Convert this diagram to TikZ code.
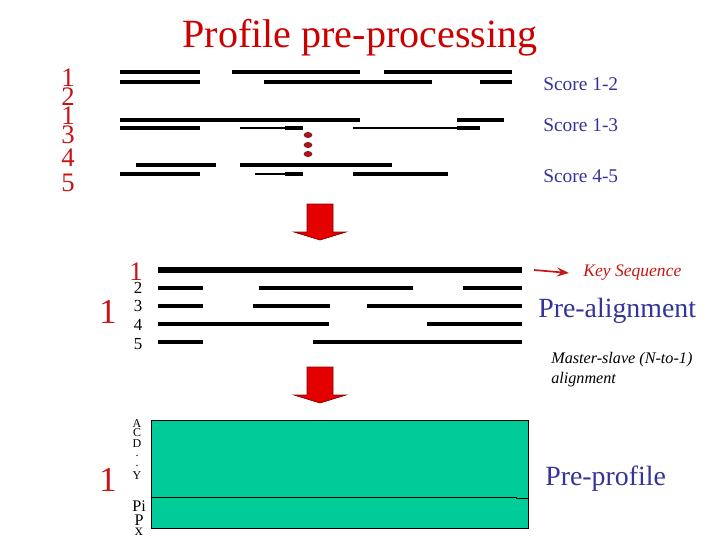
\documentclass[tikz,border=0pt]{standalone}
\usepackage{fontspec}
\setmainfont{Liberation Serif}
\usetikzlibrary{arrows.meta}
\definecolor{ttlred}{RGB}{204,0,0}
\definecolor{numred}{RGB}{200,20,20}
\definecolor{txtblue}{RGB}{51,51,153}
\definecolor{boxgreen}{RGB}{0,204,153}
\definecolor{dotred}{RGB}{175,20,30}

\begin{document}
\begin{tikzpicture}[
  x=0.025cm, y=-0.025cm,
  every node/.style={inner sep=0pt},
  >={Stealth},
  seg/.style={line width=2.8pt},
  thinseg/.style={line width=1.8pt},
  keyseg/.style={line width=4.6pt},
  bignum/.style={text=numred, font=\fontsize{19}{19}\selectfont},
  hugenum/.style={text=numred, font=\fontsize{25}{25}\selectfont},
  smallnum/.style={font=\fontsize{12}{12}\selectfont},
  score/.style={text=txtblue, font=\fontsize{13.8}{13.8}\selectfont, anchor=west},
  stage/.style={text=txtblue, font=\fontsize{19.8}{19.8}\selectfont, anchor=west},
  barrow/.style={fill=red!90!black, draw=red!55!black, line width=0.5pt}
]
\useasboundingbox (0,0) rectangle (720,540);
% title
\node[text=ttlred, font=\fontsize{28.5}{28.5}\selectfont] (title) at (360,38) {Profile pre-processing};
% raw sequences and their pair scores
\foreach \n/\y in {1/78, 2/97, 1/116, 3/135, 4/158, 5/183}
  \node[bignum] (raw\y) at (68,\y) {\n};
\foreach \y/\a/\b in {72/120/200, 72/232/360, 72/384/512,
                      82/120/200, 82/264/432, 82/480/512,
                      120/120/360, 120/457/504,
                      128/120/200, 128/285/303, 128/457/480,
                      165/136/216, 165/240/392,
                      174/120/200, 174/285/303}
  \draw[seg] (\a,\y) -- (\b,\y);
\draw[thinseg] (240,128) -- (285,128);
\draw[thinseg] (353,128) -- (457,128);
\draw[thinseg] (255,174) -- (285,174);
\draw[seg] (353,174) -- (448,174);
\foreach \y in {135,145,154}
  \filldraw[fill=dotred, draw=dotred!70!black, line width=0.4pt] (308,\y) ellipse (4 and 2.6);
\node[score] (s12) at (543,84) {Score 1-2};
\node[score] (s13) at (543,125) {Score 1-3};
\node[score] (s45) at (543,176) {Score 4-5};
% stage arrows
\foreach \t in {204,367}
  \filldraw[barrow] (307,\t) -- (333,\t) -- (333,\t+28) -- (346,\t+28) -- (320,\t+36)
    -- (294,\t+28) -- (307,\t+28) -- cycle;
% pre-alignment
\node[hugenum] (master) at (108,312) {1};
\node[bignum] (key1) at (136,272) {1};
\foreach \n/\y in {2/288, 3/306, 4/325, 5/344}
  \node[smallnum] (sl\n) at (138,\y) {\n};
\draw[keyseg] (158,270) -- (522,270);
\foreach \y/\a/\b in {288/158/203, 288/259/413, 288/463/522,
                      306/158/203, 306/253/330, 306/367/522,
                      324/158/329, 324/427/522,
                      342/158/203, 342/313/522}
  \draw[seg] (\a,\y) -- (\b,\y);
\coordinate (keyfrom) at (534,270);
\node[text=numred, font=\fontsize{12.5}{12.5}\selectfont\itshape, anchor=west] (key) at (583,273) {Key Sequence};
\draw[->, numred, line width=1.2pt] (keyfrom) -- ([xshift=-0.35cm]key.west);
\node[stage] (prealign) at (538,311) {Pre-alignment};
\node[font=\fontsize{11.5}{14.5}\selectfont\itshape, align=left, anchor=north west] (mslave) at (551,352)
  {Master-slave (N-to-1)\\alignment};
% pre-profile
\filldraw[fill=boxgreen, draw=black, line width=0.6pt] (151,420) rectangle (528,528);
\draw[line width=0.6pt] (151,497) -- (516,497) -- (516,498) -- (528,498);
\foreach \n/\y in {A/424, C/433, D/444, ./456, ./466, Y/476}
  \node[font=\fontsize{8.5}{8.5}\selectfont] (res\y) at (137,\y) {\n};
\foreach \n/\y in {Pi/506, P/520, x/532}
  \node[font=\fontsize{11.5}{11.5}\selectfont] (gap\y) at (139,\y) {\n};
\node[hugenum] (master2) at (108,480) {1};
\node[stage] (preprof) at (545,479) {Pre-profile};
\end{tikzpicture}
\end{document}
